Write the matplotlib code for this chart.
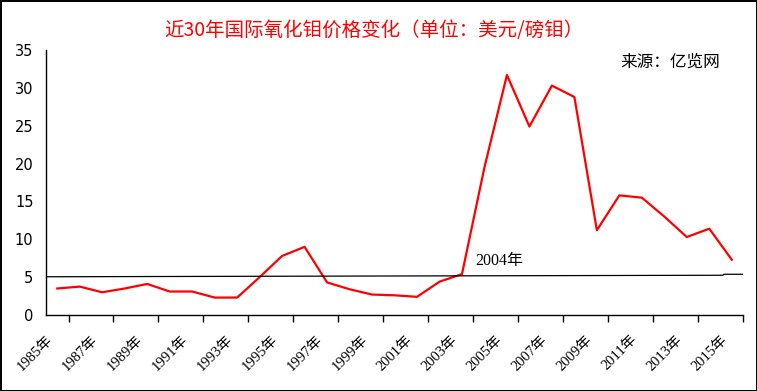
import matplotlib.pyplot as plt
import numpy as np

years = list(range(1985, 2016))
price = [3.5, 3.75, 3.0, 3.5, 4.1, 3.1, 3.1, 2.3, 2.3, 5.0, 7.8, 9.0, 4.3, 3.4, 2.7,
         2.6, 2.4, 4.4, 5.4, 19.5, 31.7, 24.9, 30.3, 28.8, 11.2, 15.8, 15.5, 13.0,
         10.3, 11.4, 7.3]
ref_line = [5.05, 5.25, 5.38]  # level at left edge, near right end, right edge
year_labels = [str(y) + '年' for y in years[::2]]

title = '近30年国际氧化钼价格变化（单位：美元/磅钼）'
source = '来源：亿览网'
note = '2004年'

cjk = ['Noto Sans CJK SC', 'DejaVu Sans']
serif = ['Liberation Serif', 'Noto Sans CJK SC']

fig = plt.figure(figsize=(7.57, 3.91), dpi=100)
fig.patch.set_edgecolor('black')
fig.patch.set_linewidth(2)
ax = fig.add_axes([0.0608, 0.1944, 0.9207, 0.6776])

x = np.arange(len(years))
n = len(years)
ax.plot(x, price, color='#ff0000', lw=1.6)
ax.plot([-0.5, n - 1.4, n - 1.35, n - 0.5], [ref_line[0], ref_line[1], ref_line[2], ref_line[2]],
        color='black', lw=0.9)

ax.set_xlim(-0.5, n - 0.5)
ax.set_ylim(0, 35)
ax.set_yticks(range(0, 36, 5))
ax.tick_params(axis='y', length=0, labelsize=10.5, pad=9)

# labels sit a little left of the category centre, like the original
ax.set_xticks(x[::2] - 0.5)
ax.set_xticklabels(year_labels, rotation=45, ha='right', va='top',
                   rotation_mode='anchor', fontfamily=serif, fontsize=10.5)
ax.tick_params(axis='x', which='major', length=0, pad=13)
ax.set_xticks(np.arange(-0.5, n, 1), minor=True)
ax.tick_params(axis='x', which='minor', length=5, direction='out', width=1)

for s in ['top', 'right']:
    ax.spines[s].set_visible(False)
for s in ['left', 'bottom']:
    ax.spines[s].set_linewidth(1)

ax.text(18.6, 6.6, note, fontfamily=serif, fontsize=11.5)
fig.text(0.82, 0.841, source, fontfamily=cjk, fontsize=12, ha='left', va='center')
fig.text(0.494, 0.921, title, fontfamily=cjk, fontsize=14, color='#ff0000',
         ha='center', va='center')

fig.savefig('out.png', dpi=100)
